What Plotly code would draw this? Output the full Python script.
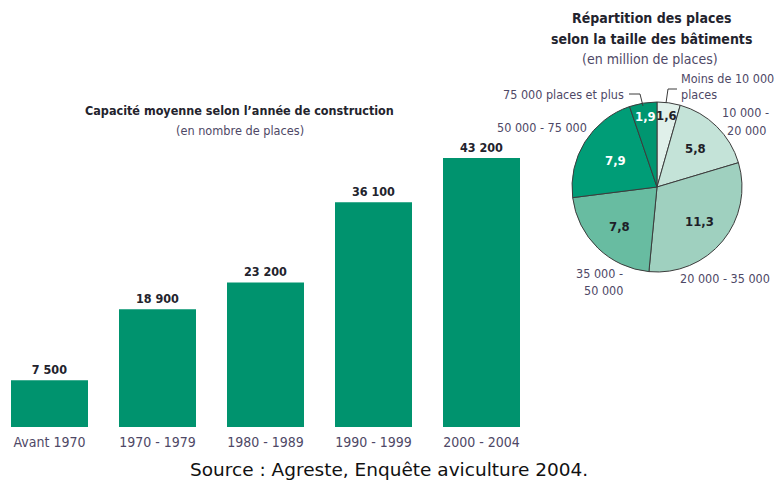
import math
import plotly.graph_objects as go

W, H = 775, 481

# Bar chart data: average capacity by construction period
periods = ["Avant 1970", "1970 - 1979", "1980 - 1989", "1990 - 1999", "2000 - 2004"]
capacity = [7500, 18900, 23200, 36100, 43200]

# Pie chart data: places by building size (million places)
size_classes = ["Moins de 10 000 places", "10 000 - 20 000", "20 000 - 35 000",
                "35 000 - 50 000", "50 000 - 75 000", "75 000 places et plus"]
places = [1.6, 5.8, 11.3, 7.8, 7.9, 1.9]
place_labels = ["1,6", "5,8", "11,3", "7,8", "7,9", "1,9"]

BAR_GREEN = "#00936e"
PIE_COLORS = ["#e0f0ea", "#c4e3d8", "#9fd0bf", "#68bca1", "#009d77", "#009670"]
PIE_TEXT = ["#1e1e28", "#1e1e28", "#1e1e28", "#1e1e28", "#ffffff", "#ffffff"]
LABEL_GREY = "#4e4866"
DARK = "#23232d"
NARROW = "Liberation Sans Narrow, DejaVu Sans Condensed, Arial Narrow, sans-serif"


def px(x):
    return x / W


def py(y):
    return 1 - y / H


fig = go.Figure()

fig.add_trace(go.Bar(
    x=periods, y=capacity,
    marker=dict(color=BAR_GREEN, line=dict(width=0)),
    texttemplate="%{y:,}", textposition="outside", cliponaxis=False,
    textfont=dict(family=NARROW, size=12.5, color=DARK, weight="bold"),
    xaxis="x", yaxis="y", showlegend=False, hoverinfo="skip",
))

# pie placed on its own domain, centred at (657, 187) with radius 85 px
cx, cy, r = 657, 187, 85
fig.add_trace(go.Pie(
    labels=size_classes, values=places, sort=False, direction="clockwise",
    rotation=0, textinfo="none", showlegend=False, hoverinfo="skip",
    marker=dict(colors=PIE_COLORS, line=dict(color="#3c3c3c", width=1)),
    domain=dict(x=[px(cx - r), px(cx + r)], y=[py(cy + r), py(cy - r)]),
))

fig.update_layout(
    width=W, height=H,
    margin=dict(l=0, r=0, t=0, b=0),
    paper_bgcolor="white", plot_bgcolor="white",
    separators=", ",
    bargap=0.287,
    xaxis=dict(domain=[px(6.3), px(535.5)], range=[-0.4, 4.5],
               showline=False, showgrid=False, zeroline=False, ticks="",
               ticklabelstandoff=5,
               tickfont=dict(family=NARROW, size=14, color=LABEL_GREY)),
    yaxis=dict(domain=[py(427), py(128)], range=[0, 48000],
               visible=False, showgrid=False, zeroline=False),
)

ann = []

# bar chart title
ann.append(dict(x=px(239), y=py(110), text="<b>Capacité moyenne selon l’année de construction</b>",
                font=dict(family=NARROW, size=12.5, color=DARK)))
ann.append(dict(x=px(240), y=py(130), text="(en nombre de places)",
                font=dict(family=NARROW, size=12.6, color=LABEL_GREY)))

# pie title
ann.append(dict(x=px(651), y=py(18), text="<b>Répartition des places</b>",
                font=dict(family=NARROW, size=14, color=DARK)))
ann.append(dict(x=px(651), y=py(39), text="<b>selon la taille des bâtiments</b>",
                font=dict(family=NARROW, size=14, color=DARK)))
ann.append(dict(x=px(650), y=py(59), text="(en million de places)",
                font=dict(family=NARROW, size=14, color=LABEL_GREY)))

# slice value labels at each slice's mid angle
radial = [0.85, 0.64, 0.64, 0.64, 0.58, 0.84]
total = sum(places)
cum = 0.0
for v, lab, col, rf in zip(places, place_labels, PIE_TEXT, radial):
    mid = (cum + v / 2) / total * 2 * math.pi
    cum += v
    lx = cx + rf * r * math.sin(mid)
    ly = cy - rf * r * math.cos(mid)
    ann.append(dict(x=px(lx), y=py(ly), text="<b>" + lab + "</b>",
                    font=dict(family=NARROW, size=13, color=col)))

# outer category names
outer = [
    (679, 78, "Moins de 10 000", "left"),
    (679, 94, "places", "left"),
    (745, 113, "10 000 -", "center"),
    (746, 130, "20 000", "center"),
    (725, 278, "20 000 - 35 000", "center"),
    (599, 273, "35 000 -", "center"),
    (603, 290, "50 000", "center"),
    (542, 127, "50 000 - 75 000", "center"),
    (626, 94, "75 000 places et plus", "right"),
]
for x, y, t, anchor in outer:
    ann.append(dict(x=px(x), y=py(y), text=t, xanchor=anchor,
                    font=dict(family=NARROW, size=12.5, color=LABEL_GREY)))

# source line
ann.append(dict(x=px(389), y=py(469), text="Source : Agreste, Enquête aviculture 2004.",
                font=dict(family="DejaVu Sans, Verdana, sans-serif", size=18.5, color="#111111")))

for a in ann:
    a.setdefault("xanchor", "center")
    a.update(xref="paper", yref="paper", yanchor="middle", showarrow=False)
fig.update_layout(annotations=ann)

# leader lines for the two small slices
leaders = [
    [(666, 103), (668, 89), (677, 89)],
    [(629, 94), (640, 94), (643, 106)],
]
for pts in leaders:
    path = "M " + " L ".join(f"{px(x)},{py(y)}" for x, y in pts)
    fig.add_shape(type="path", path=path, xref="paper", yref="paper",
                  line=dict(color="#3c3c3c", width=1))

fig.write_html("out.html")
